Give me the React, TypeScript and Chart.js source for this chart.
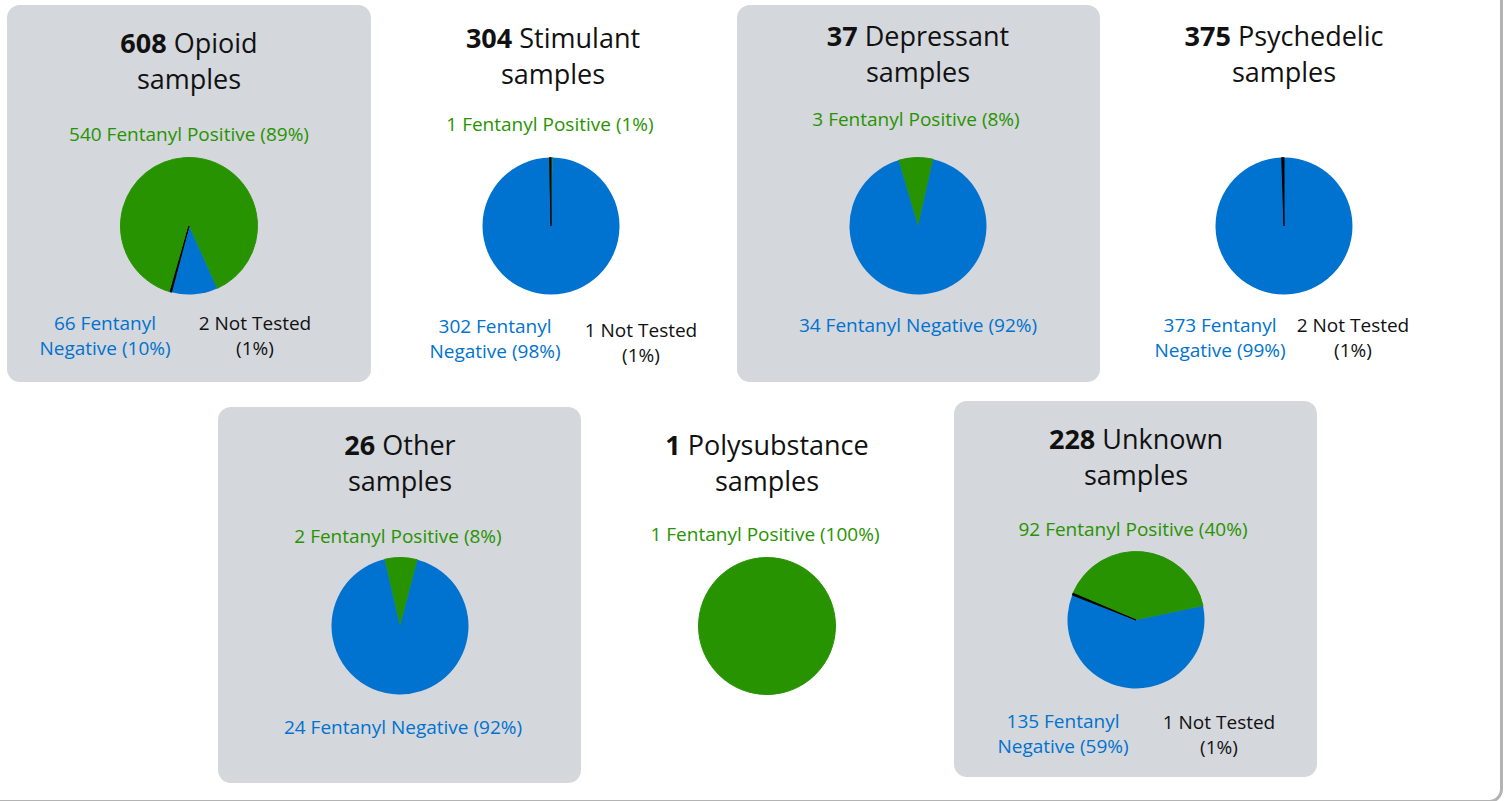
import React, { useEffect, useRef } from 'react';
import { Chart, registerables } from 'chart.js';

Chart.register(...registerables);

// ---- data ----
const categories = ['Opioid', 'Stimulant', 'Depressant', 'Psychedelic', 'Other', 'Polysubstance', 'Unknown'];
const totals = [608, 304, 37, 375, 26, 1, 228];
const positive = [540, 1, 3, 0, 2, 1, 92];
const negative = [66, 302, 34, 373, 24, 0, 135];
const notTested = [2, 1, 0, 2, 0, 0, 1];
const positivePct = [89, 1, 8, 0, 8, 100, 40];
const negativePct = [10, 98, 92, 99, 92, 0, 59];
const notTestedPct = [1, 1, 0, 1, 0, 0, 1];
const sliceNames = ['Fentanyl Positive', 'Fentanyl Negative', 'Not Tested'];
const startAngles = [-164, 0, -16.5, 0, -13, 0, -67];

// ---- style / layout ----
const GREEN = '#289300';
const BLUE = '#0072cf';
const BLACK = '#000000';
const PANEL_BG = '#d4d7dc';
const FONT = '"Open Sans", "DejaVu Sans", sans-serif';
const PIE_SIZE = 138;
const TITLE_SIZE = 27;
const TITLE_LH = 36;
const LABEL_SIZE = 19;
const LABEL_LH = 25;

type XY = [number, number];
interface PanelLayout {
  box?: [number, number, number, number];
  pie: XY;
  title: XY;
  pos?: XY;
  neg?: XY;
  nt?: XY;
}

const layout: PanelLayout[] = [
  { box: [7, 5, 364, 377], pie: [189, 226], title: [189, 43], pos: [189, 134], neg: [105, 323], nt: [255, 323] },
  { pie: [551, 226], title: [553, 38], pos: [550, 124], neg: [495, 326], nt: [641, 330] },
  { box: [737, 5, 363, 377], pie: [918, 226], title: [918, 36], pos: [916, 119], neg: [918, 325] },
  { pie: [1284, 226], title: [1284, 36], neg: [1220, 325], nt: [1353, 325] },
  { box: [218, 407, 363, 376], pie: [400, 626], title: [400, 445], pos: [398, 536], neg: [403, 727] },
  { pie: [767, 626], title: [767, 445], pos: [765, 534] },
  { box: [954, 401, 363, 376], pie: [1136, 620], title: [1136, 439], pos: [1133, 529], neg: [1063, 721], nt: [1219, 722] },
];

function Pie({ values, rotation, cx, cy }: { values: number[]; rotation: number; cx: number; cy: number }) {
  const ref = useRef<HTMLCanvasElement>(null);
  useEffect(() => {
    if (!ref.current) return;
    const colors = [GREEN, BLUE, BLACK];
    const chart = new Chart(ref.current, {
      type: 'pie',
      data: {
        labels: sliceNames,
        datasets: [
          {
            data: values,
            backgroundColor: colors,
            borderColor: colors,
            borderWidth: [1, 0, 1],
          },
        ],
      },
      options: {
        responsive: false,
        animation: false,
        rotation,
        events: [],
        layout: { padding: 0 },
        plugins: { legend: { display: false }, tooltip: { enabled: false } },
      },
    });
    return () => chart.destroy();
  }, []);
  return (
    <canvas
      ref={ref}
      width={PIE_SIZE}
      height={PIE_SIZE}
      style={{
        position: 'absolute',
        left: cx - PIE_SIZE / 2,
        top: cy - PIE_SIZE / 2,
        width: PIE_SIZE,
        height: PIE_SIZE,
      }}
    />
  );
}

function TextBlock({
  at,
  lines,
  color,
  size,
  lh,
}: {
  at: XY;
  lines: React.ReactNode[];
  color: string;
  size: number;
  lh: number;
}) {
  return (
    <div
      style={{
        position: 'absolute',
        left: at[0] - 200,
        top: at[1] - lh / 2,
        width: 400,
        textAlign: 'center',
        fontFamily: FONT,
        fontSize: size,
        lineHeight: `${lh}px`,
        color,
        whiteSpace: 'nowrap',
      }}
    >
      {lines.map((l, i) => (
        <div key={i}>{l}</div>
      ))}
    </div>
  );
}

export default function App() {
  return (
    <div
      style={{
        position: 'fixed',
        left: 0,
        top: 0,
        width: 1509,
        height: 801,
        overflow: 'hidden',
        background: '#ffffff',
      }}
    >
      <div
        style={{
          position: 'absolute',
          left: -20,
          top: -20,
          width: 1523,
          height: 823,
          boxSizing: 'border-box',
          border: '3px solid #b3b3b3',
          borderRadius: 14,
        }}
      />
      {categories.map((cat, i) => {
        const L = layout[i];
        const hasNT = notTested[i] > 0;
        const negLines = hasNT
          ? [`${negative[i]} Fentanyl`, `Negative (${negativePct[i]}%)`]
          : [`${negative[i]} Fentanyl Negative (${negativePct[i]}%)`];
        return (
          <React.Fragment key={cat}>
            {L.box && (
              <div
                style={{
                  position: 'absolute',
                  left: L.box[0],
                  top: L.box[1],
                  width: L.box[2],
                  height: L.box[3],
                  background: PANEL_BG,
                  borderRadius: 13,
                }}
              />
            )}
            <TextBlock
              at={L.title}
              size={TITLE_SIZE}
              lh={TITLE_LH}
              color="#111111"
              lines={[
                <span>
                  <b style={{ fontWeight: 700 }}>{totals[i]}</b> {cat}
                </span>,
                'samples',
              ]}
            />
            {positive[i] > 0 && L.pos && (
              <TextBlock
                at={L.pos}
                size={LABEL_SIZE}
                lh={LABEL_LH}
                color={GREEN}
                lines={[`${positive[i]} Fentanyl Positive (${positivePct[i]}%)`]}
              />
            )}
            {negative[i] > 0 && L.neg && (
              <TextBlock at={L.neg} size={LABEL_SIZE} lh={LABEL_LH} color={BLUE} lines={negLines} />
            )}
            {hasNT && L.nt && (
              <TextBlock
                at={L.nt}
                size={LABEL_SIZE}
                lh={LABEL_LH}
                color="#111111"
                lines={[`${notTested[i]} Not Tested`, `(${notTestedPct[i]}%)`]}
              />
            )}
            <Pie
              values={[positive[i], negative[i], notTested[i]]}
              rotation={startAngles[i]}
              cx={L.pie[0]}
              cy={L.pie[1]}
            />
          </React.Fragment>
        );
      })}
    </div>
  );
}
